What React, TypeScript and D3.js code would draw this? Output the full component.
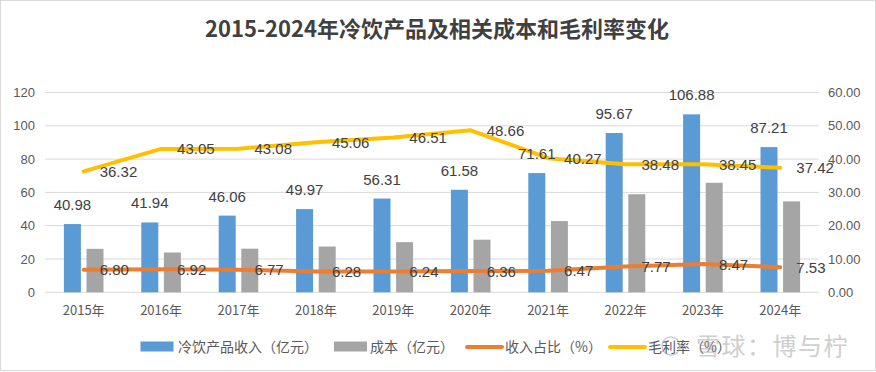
import React from "react";
import * as d3 from "d3";

const years = ["2015年", "2016年", "2017年", "2018年", "2019年", "2020年", "2021年", "2022年", "2023年", "2024年"];
const revenue = [40.98, 41.94, 46.06, 49.97, 56.31, 61.58, 71.61, 95.67, 106.88, 87.21];
const cost = [26.1, 23.9, 26.2, 27.5, 30.1, 31.6, 42.8, 58.9, 65.8, 54.6];
const revenueShare = [6.8, 6.92, 6.77, 6.28, 6.24, 6.36, 6.47, 7.77, 8.47, 7.53];
const grossMargin = [36.32, 43.05, 43.08, 45.06, 46.51, 48.66, 40.27, 38.48, 38.45, 37.42];
const leftTicks = [0, 20, 40, 60, 80, 100, 120];
const rightTicks = [0, 10, 20, 30, 40, 50, 60];

const W = 876;
const H = 372;
const plotLeft = 45;
const plotRight = 819;
const plotTop = 92.5;
const plotBottom = 292.3;

const BLUE = "#5B9BD5";
const GRAY = "#A5A5A5";
const ORANGE = "#ED7D31";
const YELLOW = "#FFC000";
const TEXT = "#404040";
const AXIS_TEXT = "#595959";
const FONT = "'Liberation Sans', 'Noto Sans CJK SC', sans-serif";
const CJK = "'Noto Sans CJK SC', 'Liberation Sans', sans-serif";

export default function App() {
  const x = d3.scaleBand<string>().domain(years).range([plotLeft, plotRight]);
  const yL = d3.scaleLinear().domain([0, 120]).range([plotBottom, plotTop]);
  const yR = d3.scaleLinear().domain([0, 60]).range([plotBottom, plotTop]);
  const cx = (i: number) => (x(years[i]) as number) + x.bandwidth() / 2;
  const barW = 17;
  const off = 11.3;

  const lineGen = (vals: number[]) =>
    d3
      .line<number>()
      .x((_, i) => cx(i))
      .y((d) => yR(d))(vals) as string;

  return (
    <div style={{ position: "absolute", left: 0, top: 0 }}>
      <svg width={W} height={H} style={{ display: "block", background: "#fff" }}>
        <rect x={0.5} y={0.5} width={W - 1} height={H - 2} fill="#fff" stroke="#D9D9D9" />
        <text
          x={437}
          y={37}
          textAnchor="middle"
          fontFamily={CJK}
          fontWeight="bold"
          fontSize={22}
          fill={TEXT}
        >
          2015-2024年冷饮产品及相关成本和毛利率变化
        </text>

        {leftTicks.map((t) => (
          <line key={"g" + t} x1={plotLeft} x2={plotRight} y1={yL(t)} y2={yL(t)} stroke="#D9D9D9" strokeWidth={1} />
        ))}
        {leftTicks.map((t) => (
          <text key={"l" + t} x={35} y={yL(t) + 4.5} textAnchor="end" fontFamily={FONT} fontSize={13} fill={AXIS_TEXT}>
            {t}
          </text>
        ))}
        {rightTicks.map((t) => (
          <text key={"r" + t} x={828} y={yR(t) + 4.5} textAnchor="start" fontFamily={FONT} fontSize={13} fill={AXIS_TEXT}>
            {t.toFixed(2)}
          </text>
        ))}
        {years.map((yr, i) => (
          <text key={"x" + yr} x={cx(i)} y={315} textAnchor="middle" fontFamily={CJK} fontSize={13} fill={AXIS_TEXT}>
            {yr}
          </text>
        ))}

        {revenue.map((v, i) => (
          <rect key={"b" + i} x={cx(i) - off - barW / 2} y={yL(v)} width={barW} height={plotBottom - yL(v)} fill={BLUE} />
        ))}
        {cost.map((v, i) => (
          <rect key={"c" + i} x={cx(i) + off - barW / 2} y={yL(v)} width={barW} height={plotBottom - yL(v)} fill={GRAY} />
        ))}

        <path d={lineGen(revenueShare)} fill="none" stroke={ORANGE} strokeWidth={4} strokeLinejoin="round" strokeLinecap="round" />
        <path d={lineGen(grossMargin)} fill="none" stroke={YELLOW} strokeWidth={4} strokeLinejoin="round" strokeLinecap="round" />

        {revenue.map((v, i) => (
          <text key={"bl" + i} x={cx(i) - off} y={yL(v) - 14} textAnchor="middle" fontFamily={FONT} fontSize={15} fill={TEXT}>
            {v.toFixed(2)}
          </text>
        ))}
        {revenueShare.map((v, i) => (
          <text key={"ol" + i} x={cx(i) + 16} y={yR(v) + 5.5} textAnchor="start" fontFamily={FONT} fontSize={15} fill={TEXT}>
            {v.toFixed(2)}
          </text>
        ))}
        {grossMargin.map((v, i) => (
          <text key={"yl" + i} x={cx(i) + 16} y={yR(v) + 5.5} textAnchor="start" fontFamily={FONT} fontSize={15} fill={TEXT}>
            {v.toFixed(2)}
          </text>
        ))}

        <g fontFamily={CJK} fontSize={14} fill={AXIS_TEXT}>
          <rect x={140.5} y={341.5} width={33} height={10} fill={BLUE} />
          <text x={178} y={352}>冷饮产品收入（亿元）</text>
          <rect x={334} y={341.5} width={33} height={10} fill={GRAY} />
          <text x={370} y={352}>成本（亿元）</text>
          <line x1={467} x2={502} y1={347} y2={347} stroke={ORANGE} strokeWidth={4} strokeLinecap="round" />
          <text x={505} y={352}>收入占比（%）</text>
          <line x1={610} x2={645} y1={347} y2={347} stroke={YELLOW} strokeWidth={4} strokeLinecap="round" />
          <text x={648} y={352}>毛利率（%）</text>
        </g>
        <g opacity={0.5}>
          <circle cx={671} cy={346} r={9} fill="none" stroke="#a0a0a0" strokeWidth={1.5} />
          <text x={696} y={355} fontFamily={CJK} fontSize={24} letterSpacing={1.5} fill="#a0a0a0">
            雪球：博与柠
          </text>
        </g>
      </svg>
    </div>
  );
}
